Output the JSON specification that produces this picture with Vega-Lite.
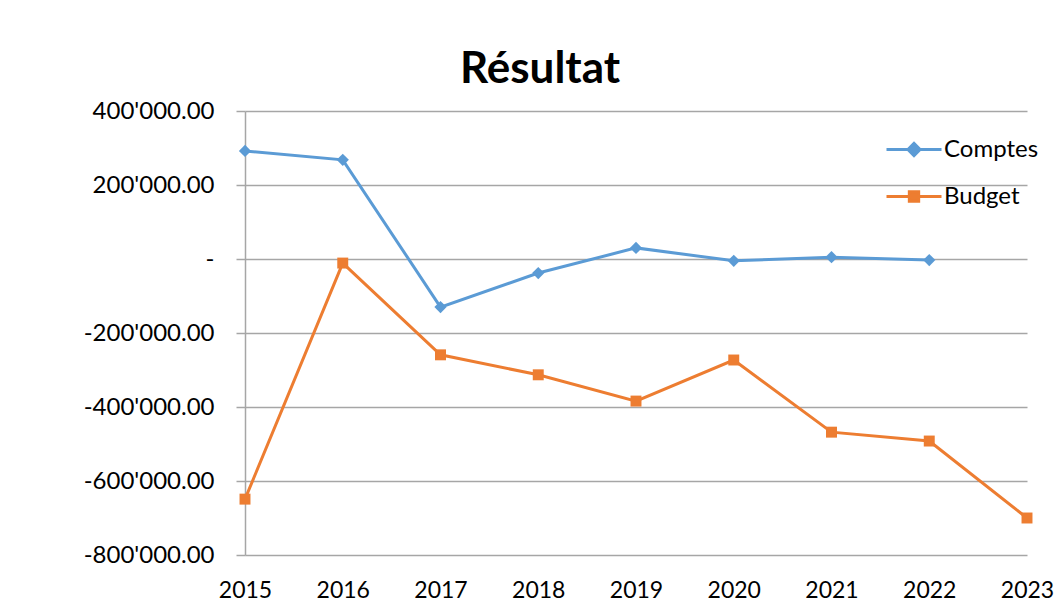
{
  "$schema": "https://vega.github.io/schema/vega-lite/v6.json",
  "autosize": "none",
  "width": 782,
  "height": 444,
  "padding": {"left": 245, "top": 111, "right": 28, "bottom": 59},
  "background": "white",
  "title": {
    "text": "Résultat",
    "font": "Lato",
    "fontSize": 44,
    "fontWeight": "bold",
    "color": "#000000",
    "anchor": "middle",
    "dx": -96,
    "offset": 7
  },
  "config": {
    "view": {"stroke": null},
    "font": "Lato"
  },
  "data": {
    "values": [
      {"year": 2015, "series": "Comptes", "value": 292000},
      {"year": 2016, "series": "Comptes", "value": 268000},
      {"year": 2017, "series": "Comptes", "value": -130000},
      {"year": 2018, "series": "Comptes", "value": -38000},
      {"year": 2019, "series": "Comptes", "value": 30000},
      {"year": 2020, "series": "Comptes", "value": -5000},
      {"year": 2021, "series": "Comptes", "value": 5000},
      {"year": 2022, "series": "Comptes", "value": -3000},
      {"year": 2015, "series": "Budget", "value": -649000},
      {"year": 2016, "series": "Budget", "value": -11000},
      {"year": 2017, "series": "Budget", "value": -259000},
      {"year": 2018, "series": "Budget", "value": -313000},
      {"year": 2019, "series": "Budget", "value": -384000},
      {"year": 2020, "series": "Budget", "value": -273000},
      {"year": 2021, "series": "Budget", "value": -468000},
      {"year": 2022, "series": "Budget", "value": -492000},
      {"year": 2023, "series": "Budget", "value": -700000}
    ]
  },
  "encoding": {
    "x": {
      "field": "year",
      "type": "ordinal",
      "scale": {"type": "point", "padding": 0},
      "axis": {
        "title": null,
        "labelAngle": 0,
        "labelFont": "Lato",
        "labelFontSize": 23,
        "labelColor": "#000000",
        "labelPadding": 24,
        "domain": false,
        "ticks": false,
        "grid": false
      }
    },
    "y": {
      "field": "value",
      "type": "quantitative",
      "scale": {"domain": [-800000, 400000], "nice": false, "zero": false},
      "axis": {
        "title": null,
        "values": [-800000, -600000, -400000, -200000, 0, 200000, 400000],
        "labelExpr": "datum.value == 0 ? '-' : (datum.value < 0 ? '-' : '') + replace(format(abs(datum.value), ',.2f'), regexp(',', 'g'), \"'\")",
        "labelFont": "Lato",
        "labelFontSize": 24,
        "labelColor": "#000000",
        "labelPadding": 22,
        "domain": true,
        "domainColor": "#a6a6a6",
        "domainWidth": 1.5,
        "ticks": true,
        "tickSize": 9,
        "tickColor": "#a6a6a6",
        "tickWidth": 1.5,
        "grid": true,
        "gridColor": "#a6a6a6",
        "gridWidth": 1.5
      }
    }
  },
  "layer": [
    {
      "mark": {"type": "line", "strokeWidth": 3},
      "encoding": {
        "color": {
          "field": "series",
          "type": "nominal",
          "scale": {"domain": ["Comptes", "Budget"], "range": ["#5b9bd5", "#ed7d31"]},
          "legend": {
            "title": null,
            "orient": "none",
            "legendX": 640,
            "legendY": 26,
            "labelFont": "Lato",
            "labelFontSize": 24,
            "labelColor": "#000000",
            "rowPadding": 22,
            "clipHeight": 25,
            "symbolSize": 3025,
            "symbolStrokeWidth": 3,
            "labelOffset": 1,
            "symbolType": "M-1,0H1",
            "encode": {
              "symbols": {
                "update": {
                  "shape": {"signal": "datum.value == 'Comptes' ? 'M-1,0H1M-0.22,0L0,-0.22L0.22,0L0,0.22Z' : 'M-1,0H1M-0.17,-0.17H0.17V0.17H-0.17Z'"},
                  "size": {"value": 3025},
                  "fill": {"signal": "datum.value == 'Comptes' ? '#5b9bd5' : '#ed7d31'"},
                  "stroke": {"signal": "datum.value == 'Comptes' ? '#5b9bd5' : '#ed7d31'"},
                  "strokeWidth": {"value": 3},
                  "opacity": {"value": 1},
                  "fillOpacity": {"value": 1},
                  "strokeOpacity": {"value": 1}
                }
              }
            }
          }
        }
      }
    },
    {
      "transform": [{"filter": "datum.series == 'Comptes'"}],
      "mark": {"type": "point", "filled": true, "opacity": 1, "shape": "diamond", "size": 150, "color": "#5b9bd5"},
      "encoding": {}
    },
    {
      "transform": [{"filter": "datum.series == 'Budget'"}],
      "mark": {"type": "point", "filled": true, "opacity": 1, "shape": "square", "size": 120, "color": "#ed7d31"},
      "encoding": {}
    }
  ]
}
